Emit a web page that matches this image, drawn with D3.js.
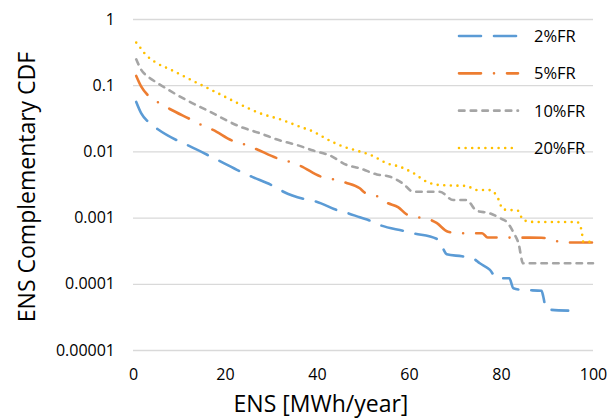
<!DOCTYPE html>
<html>
<head>
<meta charset="utf-8">
<script src="https://cdn.jsdelivr.net/npm/d3@7"></script>
<style>
    body { margin: 0; background: #fff; }
    svg { font-family: "Open Sans", sans-serif; }
</style>
</head>
<body>
<div id="chart"></div>
<script>
// Values (ENS in MWh/year, complementary CDF)
const ens2 = [0.7, 1.8, 3.3, 5.4, 9.8, 12.2, 16.7, 19.1, 23.5, 25.8, 30.5, 32.7, 37.4, 39.9, 44.3, 46.8, 49.3, 51.5, 53.7, 58.8, 60.9, 66.0, 67.3, 68.2, 71.5, 74.0, 75.4, 77.6, 79.1, 81.8, 82.7, 84.8, 88.8, 89.2, 89.8, 94.6];
const ccdf2 = [0.056, 0.0376, 0.028, 0.0216, 0.0144, 0.0121, 0.0085, 0.0070, 0.0049, 0.00415, 0.0030, 0.00246, 0.00189, 0.00174, 0.0013, 0.00116, 0.00101, 0.00090, 0.00077, 0.00063, 0.00058, 0.00048, 0.00035, 0.00028, 0.00026, 0.00024, 0.000204, 0.000162, 0.000121, 0.000121, 0.0000855, 0.0000806, 0.0000787, 0.0000638, 0.0000412, 0.0000393];

const ens5 = [0.7, 1.8, 3.4, 5.6, 8.0, 12.5, 14.9, 17.4, 21.7, 24.2, 26.9, 31.4, 34.0, 36.5, 40.9, 43.5, 46.3, 49.3, 50.4, 53.0, 55.2, 57.7, 59.5, 62.0, 64.4, 66.0, 68.5, 71.1, 75.9, 77.1, 88.8, 91.3, 93.5, 100];
const ccdf5 = [0.138, 0.095, 0.0687, 0.0544, 0.0437, 0.0305, 0.0251, 0.0211, 0.0144, 0.0128, 0.01076, 0.00787, 0.0070, 0.0060, 0.00415, 0.0038, 0.00337, 0.00277, 0.00238, 0.00212, 0.00168, 0.00143, 0.00112, 0.00101, 0.00094, 0.00083, 0.00061, 0.00058, 0.00058, 0.0005, 0.000497, 0.00046, 0.00042, 0.00042];

const ens10 = [0.7, 1.8, 3.3, 5.4, 11.6, 16.3, 23.3, 27.6, 32.0, 35.6, 39.2, 42.8, 46.5, 49.3, 53.0, 55.9, 58.8, 60.9, 66.7, 69.6, 72.5, 74.7, 77.6, 79.8, 81.4, 82.8, 83.8, 84.8, 100];
const ccdf10 = [0.246, 0.17, 0.134, 0.107, 0.0597, 0.0412, 0.0236, 0.0188, 0.0146, 0.0125, 0.0103, 0.00867, 0.00623, 0.00556, 0.00448, 0.00415, 0.00322, 0.00246, 0.00246, 0.00184, 0.00184, 0.00127, 0.00116, 0.00098, 0.00084, 0.00058, 0.00041, 0.000204, 0.000204];

const ens20 = [0.7, 1.7, 2.5, 4.7, 8.3, 13.4, 18.5, 22.8, 27.6, 32.0, 36.3, 39.2, 42.1, 45.7, 48.6, 52.2, 55.2, 58.0, 60.9, 63.8, 66.7, 72.5, 74.7, 77.6, 79.1, 80.5, 83.7, 84.8, 87.0, 96.5, 97.5, 97.9, 100];
const ccdf20 = [0.44, 0.36, 0.303, 0.226, 0.170, 0.113, 0.0755, 0.0533, 0.0377, 0.0305, 0.0236, 0.0199, 0.0154, 0.0118, 0.0103, 0.0085, 0.0066, 0.00587, 0.00472, 0.00349, 0.0031, 0.0030, 0.00261, 0.0026, 0.00212, 0.00133, 0.00127, 0.00092, 0.00086, 0.00086, 0.00065, 0.00043, 0.00043];

const seriesNames = ["2%FR", "5%FR", "10%FR", "20%FR"];
const xTicks = [0, 20, 40, 60, 80, 100];
const yTicks = [1, 0.1, 0.01, 0.001, 0.0001, 0.00001];
const yTickLabels = ["1", "0.1", "0.01", "0.001", "0.0001", "0.00001"];

const width = 615, height = 420;
const plotLeft = 133, plotRight = 593, plotTop = 19, plotBottom = 350;

const svg = d3.select("#chart").append("svg")
    .attr("width", width)
    .attr("height", height);

const x = d3.scaleLinear().domain([0, 100]).range([plotLeft, plotRight]);
const y = d3.scaleLog().domain([0.00001, 1]).range([plotBottom, plotTop]);

// Gridlines + y labels
const yAxis = svg.append("g")
    .attr("transform", `translate(${plotLeft},0)`)
    .call(d3.axisLeft(y)
        .tickValues(yTicks)
        .tickFormat((d, i) => yTickLabels[i])
        .tickSize(-(plotRight - plotLeft))
        .tickPadding(18));
yAxis.select(".domain").remove();
yAxis.selectAll("line").attr("stroke", "#d9d9d9").attr("stroke-width", 1.3);
yAxis.selectAll("text").attr("font-size", 16).attr("fill", "#000")
    .attr("font-family", "Open Sans, sans-serif");

// x labels
const xAxis = svg.append("g")
    .attr("transform", `translate(0,${plotBottom})`)
    .call(d3.axisBottom(x)
        .tickValues(xTicks)
        .tickSize(0)
        .tickPadding(18.5));
xAxis.select(".domain").remove();
xAxis.selectAll("text").attr("font-size", 16).attr("fill", "#000")
    .attr("font-family", "Open Sans, sans-serif");

// Series
const series = [
    { name: seriesNames[0], xs: ens2, ys: ccdf2, color: "#5b9bd5", dash: "22 13" },
    { name: seriesNames[1], xs: ens5, ys: ccdf5, color: "#ed7d31", dash: "22 13 0 13" },
    { name: seriesNames[2], xs: ens10, ys: ccdf10, color: "#a5a5a5", dash: "5.5 6.2" },
    { name: seriesNames[3], xs: ens20, ys: ccdf20, color: "#ffc000", dash: "0 6.6" }
];

const line = d3.line()
    .x(d => x(d[0]))
    .y(d => y(d[1]))
    .curve(d3.curveMonotoneX);

svg.append("g")
    .selectAll("path")
    .data(series)
    .join("path")
    .attr("d", s => line(s.xs.map((v, i) => [v, s.ys[i]])))
    .attr("fill", "none")
    .attr("stroke", s => s.color)
    .attr("stroke-width", 2.6)
    .attr("stroke-linecap", "round")
    .attr("stroke-dasharray", s => s.dash);

// Legend
const legendY = d3.scalePoint().domain(seriesNames).range([36, 148]);
const legend = svg.append("g")
    .selectAll("g")
    .data(series)
    .join("g")
    .attr("transform", s => `translate(0,${legendY(s.name)})`);

legend.append("line")
    .attr("x1", 459).attr("x2", 518)
    .attr("stroke", s => s.color)
    .attr("stroke-width", 2.6)
    .attr("stroke-linecap", "round")
    .attr("stroke-dasharray", s => s.dash);

legend.append("text")
    .attr("x", 534)
    .attr("dy", "0.36em")
    .attr("font-size", 16.5)
    .text(s => s.name);

// Axis titles
svg.append("text")
    .attr("x", 321)
    .attr("y", 412)
    .attr("text-anchor", "middle")
    .attr("font-size", 23)
    .text("ENS [MWh/year]");

svg.append("text")
    .attr("transform", "translate(35,187) rotate(-90)")
    .attr("text-anchor", "middle")
    .attr("font-size", 23)
    .text("ENS Complementary CDF");
</script>
</body>
</html>
